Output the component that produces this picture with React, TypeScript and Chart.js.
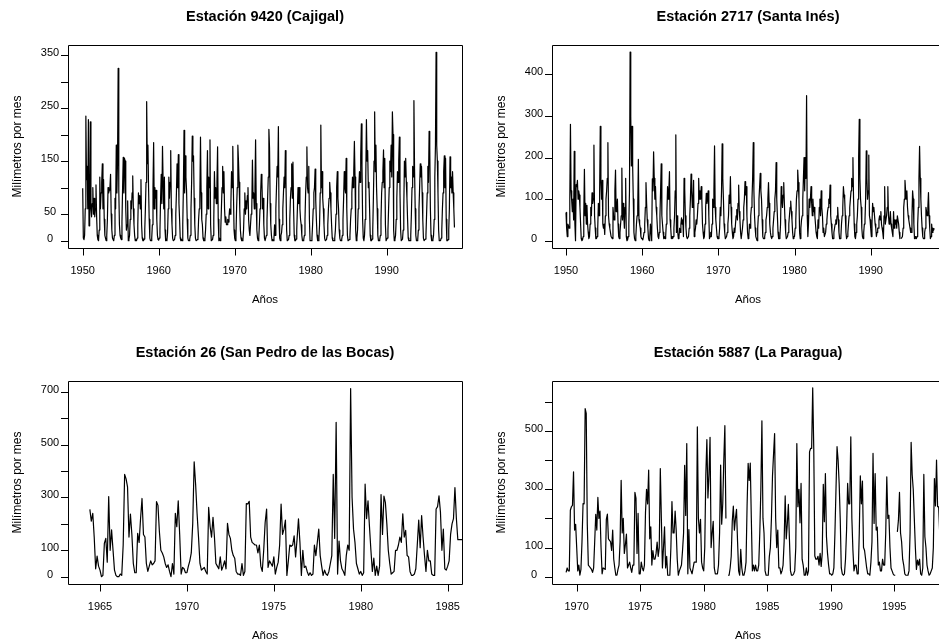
import React, { useEffect, useRef } from "react";
import { Chart, registerables } from "chart.js";

Chart.register(...registerables);

type Row = (number | null)[];

const W = 939;
const H = 642;
const FONT = '"Liberation Sans", Arial, Helvetica, sans-serif';

// ---------- Estación 9420 (Cajigal): monthly rainfall (mm), one row per year, Jan 1950 – Dec 1998
const cajigalStart = 1950;
const cajigalRows: Row[] = [
  [99, 5, 2, 10, 60, 235, 115, 140, 60, 228, 28, 45],
  [224, 60, 45, 70, 100, 50, 80, 45, 60, 105, 45, 10],
  [2, 0, 20, 120, 60, 90, 110, 145, 60, 115, 40, 10],
  [5, 0, 10, 40, 100, 90, 95, 100, 125, 50, 20, 5],
  [2, 0, 10, 80, 60, 180, 90, 150, 325, 95, 30, 10],
  [5, 2, 35, 100, 157, 90, 155, 150, 60, 20, 30, 75],
  [0, 3, 10, 40, 75, 60, 90, 122, 60, 30, 10, 0],
  [2, 0, 5, 30, 90, 70, 85, 60, 115, 30, 5, 0],
  [0, 3, 20, 60, 110, 262, 145, 180, 100, 40, 5, 0],
  [0, 5, 30, 100, 185, 60, 100, 80, 95, 40, 10, 2],
  [1, 5, 20, 80, 125, 70, 178, 110, 60, 120, 20, 0],
  [3, 0, 15, 60, 120, 80, 110, 170, 60, 30, 5, 0],
  [0, 2, 10, 50, 90, 145, 100, 162, 70, 40, 5, 0],
  [2, 0, 30, 100, 208, 90, 160, 120, 95, 40, 5, 0],
  [0, 3, 10, 60, 110, 197, 150, 160, 80, 30, 5, 0],
  [0, 2, 5, 40, 60, 80, 195, 90, 40, 30, 5, 0],
  [0, 3, 20, 50, 100, 170, 60, 120, 100, 190, 30, 0],
  [0, 2, 10, 40, 130, 80, 100, 70, 110, 177, 40, 0],
  [5, 0, 20, 60, 100, 140, 90, 130, 60, 35, 45, 30],
  [30, 40, 35, 45, 60, 50, 70, 130, 100, 178, 90, 20],
  [5, 0, 10, 60, 100, 180, 150, 110, 60, 20, 5, 0],
  [0, 2, 20, 60, 90, 50, 75, 60, 85, 100, 40, 20],
  [10, 30, 50, 60, 152, 80, 90, 60, 100, 190, 70, 20],
  [5, 0, 5, 30, 60, 90, 125, 110, 60, 80, 30, 5],
  [0, 0, 10, 40, 80, 120, 210, 175, 70, 30, 10, 0],
  [2, 0, 5, 30, 10, 60, 100, 140, 120, 215, 40, 5],
  [0, 10, 15, 30, 60, 90, 120, 100, 170, 110, 20, 0],
  [0, 2, 10, 40, 80, 100, 145, 80, 148, 60, 10, 0],
  [0, 3, 20, 60, 100, 70, 100, 60, 40, 30, 10, 0],
  [0, 2, 10, 40, 90, 120, 177, 100, 90, 140, 40, 0],
  [0, 0, 5, 30, 60, 90, 100, 135, 75, 40, 10, 0],
  [0, 5, 30, 90, 218, 100, 130, 80, 60, 30, 5, 0],
  [0, 2, 10, 30, 60, 80, 110, 90, 60, 30, 5, 0],
  [0, 0, 5, 20, 50, 100, 130, 80, 60, 20, 5, 0],
  [0, 3, 10, 40, 80, 130, 100, 90, 155, 60, 10, 0],
  [0, 2, 10, 40, 60, 90, 120, 100, 130, 187, 120, 20],
  [0, 5, 20, 60, 100, 130, 110, 160, 220, 140, 40, 5],
  [0, 10, 40, 120, 228, 150, 170, 100, 110, 60, 10, 0],
  [0, 3, 20, 80, 150, 243, 130, 180, 100, 60, 10, 0],
  [0, 2, 10, 40, 90, 110, 130, 171, 100, 155, 30, 0],
  [0, 5, 20, 60, 100, 150, 130, 180, 120, 243, 200, 20],
  [0, 2, 10, 40, 80, 130, 110, 150, 195, 90, 20, 0],
  [0, 3, 20, 60, 150, 120, 155, 110, 80, 40, 5, 0],
  [0, 0, 10, 50, 100, 140, 120, 264, 135, 60, 10, 0],
  [0, 2, 20, 60, 100, 145, 120, 140, 90, 40, 5, 0],
  [0, 3, 10, 50, 90, 140, 110, 206, 175, 60, 10, 0],
  [0, 2, 10, 40, 120, 180, 355, 180, 150, 90, 20, 0],
  [0, 0, 5, 20, 60, 90, 130, 160, 100, 155, 40, 0],
  [0, 2, 20, 60, 158, 100, 120, 90, 130, 90, 60, 25],
];
const cajigalXTicks = [1950, 1960, 1970, 1980, 1990];
const cajigalYTicks = [0, 50, 100, 150, 200, 250, 300, 350];
const cajigalYLabels = [0, 50, 150, 250, 350];

// ---------- Estación 2717 (Santa Inés): Jan 1950 – Jun 1998
const santaInesStart = 1950;
const santaInesRows: Row[] = [
  [68, 30, 10, 40, 35, 30, 100, 280, 120, 95, 70, 100],
  [50, 215, 40, 0, 135, 130, 145, 100, 120, 110, 80, 40],
  [5, 0, 2, 10, 60, 172, 60, 90, 40, 85, 40, 20],
  [5, 10, 40, 80, 60, 115, 90, 100, 230, 60, 30, 5],
  [5, 10, 30, 90, 60, 120, 275, 140, 100, 145, 40, 30],
  [40, 15, 60, 100, 120, 150, 236, 60, 40, 30, 20, 10],
  [10, 5, 80, 60, 50, 120, 170, 70, 80, 100, 40, 10],
  [5, 20, 40, 60, 175, 50, 90, 60, 30, 80, 150, 10],
  [0, 2, 10, 40, 120, 454, 300, 180, 275, 180, 100, 20],
  [5, 0, 10, 40, 60, 80, 196, 50, 40, 30, 10, 5],
  [5, 2, 10, 20, 40, 80, 140, 90, 50, 30, 5, 0],
  [10, 40, 20, 0, 149, 120, 214, 150, 100, 130, 80, 60],
  [30, 10, 5, 20, 60, 120, 185, 60, 40, 20, 5, 10],
  [5, 10, 40, 70, 130, 100, 120, 166, 50, 30, 5, 10],
  [5, 10, 30, 60, 120, 255, 20, 60, 20, 5, 10, 30],
  [20, 40, 55, 40, 50, 10, 150, 125, 60, 30, 10, 5],
  [5, 10, 30, 60, 100, 160, 120, 80, 100, 145, 10, 20],
  [30, 50, 40, 60, 90, 150, 100, 120, 100, 130, 100, 40],
  [20, 5, 10, 40, 80, 114, 90, 100, 120, 60, 5, 10],
  [20, 10, 40, 100, 80, 120, 228, 80, 50, 30, 10, 5],
  [5, 10, 30, 80, 60, 120, 233, 150, 100, 40, 20, 5],
  [5, 10, 20, 40, 60, 110, 90, 154, 80, 40, 20, 5],
  [10, 30, 20, 40, 60, 75, 50, 90, 134, 70, 50, 20],
  [5, 5, 30, 50, 80, 100, 142, 110, 130, 60, 20, 5],
  [10, 40, 30, 60, 80, 100, 150, 236, 120, 60, 30, 10],
  [5, 0, 30, 60, 100, 130, 162, 120, 100, 50, 10, 5],
  [5, 10, 20, 50, 60, 80, 100, 140, 90, 40, 20, 10],
  [5, 10, 30, 50, 70, 100, 120, 188, 100, 60, 20, 5],
  [5, 10, 40, 130, 100, 80, 110, 140, 90, 50, 20, 5],
  [5, 10, 20, 40, 60, 80, 95, 70, 50, 20, 5, 10],
  [10, 30, 50, 100, 120, 170, 140, 100, 20, 5, 30, 50],
  [60, 100, 150, 200, 120, 200, 150, 349, 60, 10, 40, 100],
  [80, 100, 130, 90, 60, 100, 70, 80, 60, 40, 20, 10],
  [5, 50, 30, 80, 100, 60, 120, 80, 60, 20, 30, 10],
  [10, 20, 40, 50, 70, 80, 100, 90, 134, 60, 40, 20],
  [5, 5, 20, 30, 40, 50, 40, 60, 80, 50, 20, 5],
  [5, 10, 40, 60, 80, 130, 110, 100, 60, 20, 5, 10],
  [20, 40, 60, 80, 100, 120, 150, 130, 200, 100, 40, 10],
  [5, 20, 40, 60, 100, 200, 292, 150, 100, 80, 30, 10],
  [5, 20, 40, 50, 100, 216, 150, 100, 120, 206, 60, 50],
  [30, 10, 40, 90, 70, 80, 60, 40, 30, 10, 20, 30],
  [30, 50, 60, 50, 70, 40, 30, 20, 5, 60, 130, 40],
  [40, 60, 80, 130, 60, 40, 50, 70, 40, 30, 20, 10],
  [70, 30, 50, 40, 50, 30, 60, 60, 40, 20, 5, null],
  [5, 5, 10, 30, 80, 100, 145, 120, 100, 120, 80, 60],
  [50, 40, 30, 20, 20, 60, 120, 100, 40, 5, 10, 5],
  [5, 10, 40, 80, 150, 227, 150, 100, 60, 30, 10, 5],
  [5, 20, 30, 80, 70, 60, 80, 116, 60, 30, 5, 10],
  [40, 20, 30, 25, 30, 30],
];
const santaInesXTicks = [1950, 1960, 1970, 1980, 1990];
const santaInesYTicks = [0, 100, 200, 300, 400];
const santaInesYLabels = [0, 100, 200, 300, 400];

// ---------- Estación 26 (San Pedro de las Bocas): Jun 1964 – Nov 1985
const sanPedroStart = 1964 + 5 / 12;
const sanPedroRows: Row[] = [
  [255, 210, 240, 150, 30, 78, 40],
  [25, 0, 5, 126, 145, 55, 303, 100, 177, 100, 25, 5],
  [0, 0, 10, 5, 120, 387, 370, 340, 150, 237, 160, 50],
  [15, 15, 164, 130, 220, 296, 160, 150, 50, 20, 40, 60],
  [45, 50, 60, 284, 270, 170, 100, 90, 75, 50, 35, 45],
  [20, 0, 50, 10, 240, 189, 287, 160, 10, 35, 30, 15],
  [15, 40, 60, 90, 200, 435, 350, 240, 150, 50, 25, 30],
  [35, 20, 10, 262, 190, 150, 225, 150, 50, 40, 30, 75],
  [25, 40, 60, 30, 202, 160, 145, 100, 80, 70, 20, 10],
  [10, 5, 50, 5, 20, 277, 275, 285, 150, 130, 125, 120],
  [120, 90, 120, 40, 20, 100, 205, 256, 35, 60, 50, 40],
  [75, 10, 35, 55, 120, 275, 160, 180, 214, 5, 60, 120],
  [115, 120, 155, 75, 140, 219, 130, 5, 100, 35, 40, 20],
  [5, 15, 5, 10, 120, 80, 130, 180, 80, 40, 5, 25],
  [10, 5, 20, 50, 80, 387, 145, 584, 10, 135, 60, 30],
  [20, 5, 80, 120, 100, 712, 300, 180, 130, 50, 30, 10],
  [20, 5, 15, 350, 220, 287, 190, 100, 20, 70, 5, 40],
  [5, 40, 311, 160, 305, 280, 200, 100, 50, 10, 15, 20],
  [100, 100, 120, 150, 130, 238, 150, 175, 80, 75, 20, 5],
  [5, 10, 30, 120, 214, 110, 231, 150, 80, 20, 100, 60],
  [60, 10, 5, 5, 256, 265, 306, 245, 100, 180, 30, 25],
  [40, 60, 160, 200, 220, 337, 220, 140, 140, 140, 140],
];
const sanPedroXTicks = [1965, 1970, 1975, 1980, 1985];
const sanPedroYTicks = [0, 100, 200, 300, 400, 500, 600, 700];
const sanPedroYLabels = [0, 100, 300, 500, 700];

// ---------- Estación 5887 (La Paragua): Mar 1969 – Aug 1998
const laParaguaStart = 1969 + 2 / 12;
const laParaguaRows: Row[] = [
  [15, 30, 20, 20, 228, 240, 245, 360, 160, 180],
  [100, 20, 40, 5, 25, 120, 251, 250, 577, 560, 180, 40],
  [35, 30, 25, 15, 30, 120, 214, 160, 272, 200, 225, 100],
  [10, 30, 28, 25, 197, 215, 130, 125, 120, 90, 160, 60],
  [30, 5, 5, 25, 40, 120, 331, 150, 200, 80, 110, 146],
  [30, 40, 50, 30, 15, 40, 40, 289, 270, 80, 217, 10],
  [10, 50, 30, 20, 40, 220, 300, 250, 366, 130, 171, 40],
  [90, 60, 60, 80, 119, 70, 100, 371, 200, 30, 100, 171],
  [30, 70, 5, 5, 5, 100, 258, 150, 150, 225, 160, 60],
  [5, 20, 30, 40, 90, 150, 382, 210, 457, 10, 162, 30],
  [20, 10, 30, 50, 50, 50, 514, 200, 150, 197, 50, 30],
  [20, 100, 350, 470, 270, 350, 478, 100, 150, 190, 30, 10],
  [10, 10, 40, 150, 383, 180, 250, 400, 518, 200, null, 5],
  [5, 30, 70, 190, 242, 160, 200, 231, 120, 20, 5, 94],
  [30, 5, 5, 20, 50, 245, 389, 330, 390, 200, 20, 40],
  [20, 40, 20, 20, 40, 150, 300, 535, 200, 150, 20, 5],
  [5, 5, 69, 100, 200, 345, 420, 491, 200, 100, 160, 30],
  [30, 10, 20, 40, 120, 277, 130, 180, 248, 130, 20, 5],
  [5, 10, 20, 100, 457, 240, 300, 185, 320, 60, 40, 5],
  [5, 30, 5, 20, 428, 440, 440, 648, 440, 71, 60, 60],
  [70, 40, 80, 35, 80, 317, 189, 354, 137, 80, 40, 10],
  [10, 5, 10, 30, 150, 300, 446, 400, 320, 200, 30, 10],
  [5, 10, 60, 160, 320, 250, 250, 480, 200, 91, 20, 40],
  [40, 10, 10, 150, 346, 250, 328, 100, 90, 60, 30, 10],
  [10, 5, 50, 120, 423, 183, 354, 160, 170, 40, 50, 20],
  [20, 60, 40, 40, 150, 343, 200, 211, 100, 30, 20, 10],
  [5, 5, null, 154, 194, 289, 150, 120, 60, 40, 10, 5],
  [5, 5, 20, 150, 461, 350, 300, 200, 100, 25, 57, 40],
  [60, 10, 5, 30, 351, 137, 100, 40, 20, 5, 10, 20],
  [30, 100, 337, 243, 400, 240, 240, 150],
];
const laParaguaXTicks = [1970, 1975, 1980, 1985, 1990, 1995];
const laParaguaYTicks = [0, 100, 200, 300, 400, 500, 600];
const laParaguaYLabels = [0, 100, 300, 500];

interface Panel {
  title: string;
  titleX: number;
  start: number;
  rows: Row[];
  area: { left: number; top: number; right: number; bottom: number };
  xMin: number;
  xMax: number;
  yMin: number;
  yMax: number;
  xTicks: number[];
  yTicks: number[];
  yLabels: number[];
}

const panels: Panel[] = [
  {
    title: "Estación 9420 (Cajigal)",
    titleX: 265,
    start: cajigalStart,
    rows: cajigalRows,
    area: { left: 68, top: 45, right: 462, bottom: 248 },
    xMin: 1948.066,
    xMax: 1999.91,
    yMin: -13.8,
    yMax: 368.8,
    xTicks: cajigalXTicks,
    yTicks: cajigalYTicks,
    yLabels: cajigalYLabels,
  },
  {
    title: "Estación 2717 (Santa Inés)",
    titleX: 748,
    start: santaInesStart,
    rows: santaInesRows,
    area: { left: 552, top: 45, right: 939, bottom: 248 },
    xMin: 1948.162,
    xMax: 1998.966,
    yMin: -17.6,
    yMax: 471,
    xTicks: santaInesXTicks,
    yTicks: santaInesYTicks,
    yLabels: santaInesYLabels,
  },
  {
    title: "Estación 26 (San Pedro de las Bocas)",
    titleX: 265,
    start: sanPedroStart,
    rows: sanPedroRows,
    area: { left: 68, top: 381, right: 462, bottom: 584 },
    xMin: 1963.159,
    xMax: 1985.823,
    yMin: -27.6,
    yMax: 740.5,
    xTicks: sanPedroXTicks,
    yTicks: sanPedroYTicks,
    yLabels: sanPedroYLabels,
  },
  {
    title: "Estación 5887 (La Paragua)",
    titleX: 748,
    start: laParaguaStart,
    rows: laParaguaRows,
    area: { left: 552, top: 381, right: 939, bottom: 584 },
    xMin: 1968.055,
    xMax: 1998.528,
    yMin: -25,
    yMax: 671.4,
    xTicks: laParaguaXTicks,
    yTicks: laParaguaYTicks,
    yLabels: laParaguaYLabels,
  },
];

function PanelChart({ p }: { p: Panel }) {
  const ref = useRef<HTMLCanvasElement | null>(null);

  useEffect(() => {
    const canvas = ref.current;
    if (!canvas) return;
    const values = p.rows.flat();
    const data = values.map((v, i) => ({ x: p.start + i / 12, y: v }));

    const rAxes = {
      id: "rAxes",
      afterDraw(chart: any) {
        const ctx: CanvasRenderingContext2D = chart.ctx;
        const a = chart.chartArea;
        const xs = chart.scales.x;
        const ys = chart.scales.y;
        ctx.save();
        ctx.strokeStyle = "#000";
        ctx.fillStyle = "#000";
        ctx.lineWidth = 1;
        const L = Math.round(a.left) + 0.5;
        const T = Math.round(a.top) + 0.5;
        const R = Math.round(a.right) + 0.5;
        const B = Math.round(a.bottom) + 0.5;
        ctx.beginPath();
        ctx.rect(L, T, R - L, B - T);
        ctx.stroke();

        ctx.beginPath();
        for (const v of p.yTicks) {
          const y = Math.round(ys.getPixelForValue(v)) + 0.5;
          ctx.moveTo(L, y);
          ctx.lineTo(L - 7.5, y);
        }
        for (const t of p.xTicks) {
          const x = Math.round(xs.getPixelForValue(t)) + 0.5;
          ctx.moveTo(x, B);
          ctx.lineTo(x, B + 7);
        }
        ctx.stroke();

        ctx.font = `11px ${FONT}`;
        ctx.textAlign = "center";
        ctx.textBaseline = "alphabetic";
        for (const v of p.yLabels) {
          const y = ys.getPixelForValue(v);
          ctx.fillText(String(v), a.left - 18, y + 1);
        }
        for (const t of p.xTicks) {
          const x = xs.getPixelForValue(t);
          ctx.fillText(String(t), x, a.bottom + 26);
        }

        ctx.font = `bold 14.5px ${FONT}`;
        ctx.fillText(p.title, p.titleX, a.top - 24);

        ctx.font = `11.5px ${FONT}`;
        ctx.fillText("Años", p.titleX, a.bottom + 54.5);

        ctx.translate(a.left - 50, (a.top + a.bottom) / 2);
        ctx.rotate(-Math.PI / 2);
        ctx.font = `12px ${FONT}`;
        ctx.textBaseline = "middle";
        ctx.fillText("Milímetros por mes", 0, 0);
        ctx.restore();
      },
    };

    const chart = new Chart(canvas, {
      type: "line",
      data: {
        datasets: [
          {
            data: data as any,
            borderColor: "#000",
            borderWidth: 1.2,
            pointRadius: 0,
            pointHoverRadius: 0,
            tension: 0,
            spanGaps: false,
            fill: false,
            borderJoinStyle: "round",
          },
        ],
      },
      options: {
        responsive: false,
        animation: false,
        events: [],
        layout: {
          padding: {
            left: p.area.left,
            top: p.area.top,
            right: W - p.area.right,
            bottom: H - p.area.bottom,
          },
        },
        scales: {
          x: { type: "linear", min: p.xMin, max: p.xMax, display: false },
          y: { type: "linear", min: p.yMin, max: p.yMax, display: false },
        },
        plugins: {
          legend: { display: false },
          tooltip: { enabled: false },
          title: { display: false },
        },
      },
      plugins: [rAxes],
    });
    return () => chart.destroy();
  }, [p]);

  return (
    <canvas
      ref={ref}
      width={W}
      height={H}
      style={{ position: "absolute", left: 0, top: 0, width: W, height: H }}
    />
  );
}

export default function App() {
  return (
    <div
      style={{
        position: "absolute",
        left: 0,
        top: 0,
        width: W,
        height: H,
        overflow: "hidden",
        background: "#fff",
      }}
    >
      {panels.map((p) => (
        <PanelChart key={p.title} p={p} />
      ))}
    </div>
  );
}
